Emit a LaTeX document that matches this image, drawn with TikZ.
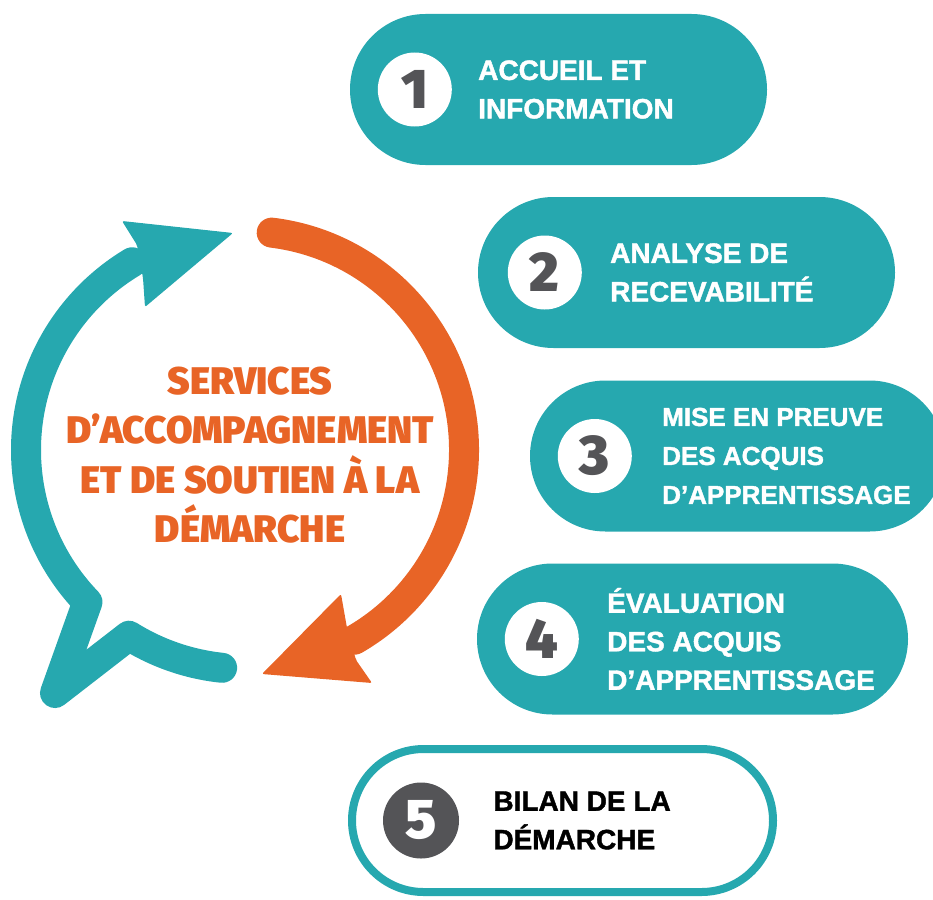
\documentclass[tikz,border=0pt]{standalone}
\usepackage{fontspec}
\setmainfont{Liberation Sans}
\newfontfamily\heavyfont{Fira Sans}[UprightFont=* Black]
\newfontfamily\pillfont{Liberation Sans}[UprightFont=* Bold, FakeBold=1.5]
\newfontfamily\digitfont{Fira Sans}[UprightFont=* Black]
\usetikzlibrary{positioning,shapes.misc}

\definecolor{accteal}{HTML}{26A8AF}
\definecolor{accorange}{HTML}{E86426}
\definecolor{numgray}{HTML}{545457}

\tikzset{
    pill/.style={rounded rectangle, fill=accteal, minimum height=151pt, inner sep=0pt},
    numdisc/.style={circle, fill=white, minimum size=74pt, inner sep=0pt,
        text=numgray, font=\digitfont\fontsize{56}{56}\selectfont},
    steptext/.style={align=left, inner sep=0pt, text=white,
        font=\pillfont\fontsize{28}{38.5}\selectfont},
    loopstroke/.style={line width=30pt, line cap=round, line join=round}
}

\begin{document}
\begin{tikzpicture}[x=1pt,y=1pt]

    \useasboundingbox (0,0) rectangle (933,-899);
    \clip (0,0) rectangle (933,-899);

    % loop
    \coordinate (ctr) at (245,-450);

    \draw[loopstroke, accteal]
        ([shift={(264:219)}]ctr) arc[start angle=264, end angle=238, radius=219] --
        (55,-693) --
        ([shift={(224:219)}]ctr) arc[start angle=224, end angle=121, radius=219];
    \fill[accteal, rounded corners=2pt]
        (233,-233) -- (122,-221) -- (137,-245) -- (143,-278) -- (145,-307) -- cycle;

    \draw[loopstroke, accorange]
        ([shift={(83:219)}]ctr) arc[start angle=83, end angle=-60, radius=219];
    \fill[accorange, rounded corners=2pt]
        (262,-674) -- (341,-594) -- (347,-628) -- (356,-660) -- (372,-683) -- cycle;

    \node[align=center, inner sep=0pt, text=accorange,
        font=\heavyfont\fontsize{38.5}{49.5}\selectfont] (svc) at (250,-455)
        {SERVICES\\D’ACCOMPAGNEMENT\\ET DE SOUTIEN À LA\\DÉMARCHE};

    % step 1
    \node[pill, minimum width=417pt] (p1) at (558.5,-89.5) {};
    \node[numdisc] (n1) at ([xshift=65pt]p1.west) {1};
    \node[steptext, right=26pt of n1] (t1) {ACCUEIL ET\\INFORMATION};

    % step 2
    \node[pill, minimum width=417pt] (p2) at (686.5,-272.5) {};
    \node[numdisc] (n2) at ([xshift=67pt]p2.west) {2};
    \node[steptext, right=28pt of n2] (t2) {ANALYSE DE\\RECEVABILITÉ};

    % step 3
    \node[pill, minimum width=415pt] (p3) at (737.5,-456) {};
    \node[numdisc] (n3) at ([xshift=65pt]p3.west) {3};
    \node[steptext, right=30pt of n3, font=\pillfont\fontsize{26}{39}\selectfont] (t3)
        {MISE EN PREUVE\\DES ACQUIS\\D’APPRENTISSAGE};

    % step 4
    \node[pill, minimum width=431pt] (p4) at (692.5,-639) {};
    \node[numdisc] (n4) at ([xshift=65pt]p4.west) {4};
    \node[steptext, right=28pt of n4] (t4) {ÉVALUATION\\DES ACQUIS\\D’APPRENTISSAGE};

    % step 5
    \node[pill, fill=white, draw=accteal, line width=8pt,
        minimum width=421pt, minimum height=143pt] (p5) at (562.5,-820.5) {};
    \node[numdisc, fill=numgray, text=white, minimum size=76pt] (n5) at ([xshift=73pt]p5.west) {5};
    \node[steptext, text=black, right=34pt of n5] (t5) {BILAN DE LA\\DÉMARCHE};

\end{tikzpicture}
\end{document}
